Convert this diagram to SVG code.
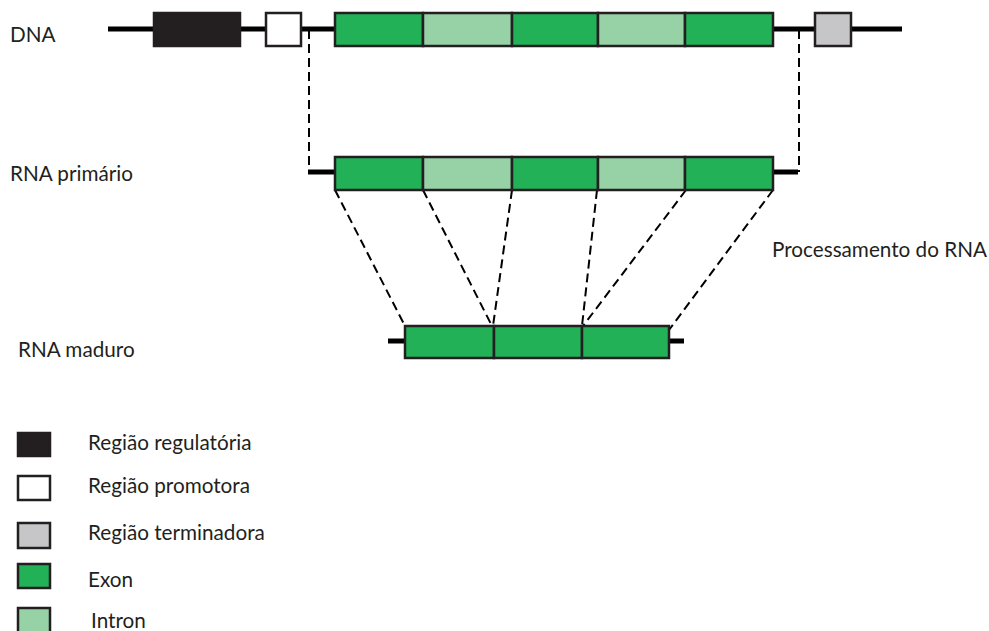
<svg xmlns="http://www.w3.org/2000/svg" width="989" height="631" viewBox="0 0 989 631">
<style>
  text { font-family: Lato, "Open Sans", sans-serif; font-size: 20.7px; fill: #231f20; }
  .box { stroke: #231f20; stroke-width: 2.5; }
  .reg { fill: #231f20; }
  .pro { fill: #ffffff; }
  .ter { fill: #c6c6c8; }
  .exon { fill: #22b157; }
  .intron { fill: #97d1a6; }
  .line { stroke: #000; stroke-width: 5; fill: none; }
  .dash { stroke: #000; stroke-width: 2; stroke-dasharray: 9 5; fill: none; }
</style>
<g id="labels">
  <text x="10" y="42">DNA</text>
  <text x="10" y="181">RNA primário</text>
  <text x="18" y="357">RNA maduro</text>
  <text x="772" y="257">Processamento do RNA</text>
</g>
<g id="connectors">
  <line class="line" x1="108" y1="29" x2="902" y2="29"/>
  <polyline class="line" points="308,172 335,172"/>
  <polyline class="line" points="773,172 798,172"/>
  <line class="line" x1="388" y1="341" x2="684" y2="341"/>
  <polyline class="dash" points="309,30 309,172"/>
  <polyline class="dash" points="799,30 799,172"/>
  <line class="dash" x1="335" y1="190" x2="405" y2="326"/>
  <line class="dash" x1="423" y1="190" x2="492" y2="326"/>
  <line class="dash" x1="512" y1="190" x2="493" y2="326"/>
  <line class="dash" x1="597" y1="190" x2="582" y2="326"/>
  <line class="dash" x1="686" y1="190" x2="583" y2="326"/>
  <line class="dash" x1="773" y1="190" x2="669" y2="330"/>
</g>
<g id="dna">
  <rect class="box reg" x="154" y="13" width="86" height="33"/>
  <rect class="box pro" x="266" y="13" width="35" height="33"/>
  <rect class="box exon" x="335" y="13" width="88" height="33"/>
  <rect class="box intron" x="423" y="13" width="89" height="33"/>
  <rect class="box exon" x="512" y="13" width="86" height="33"/>
  <rect class="box intron" x="598" y="13" width="87" height="33"/>
  <rect class="box exon" x="685" y="13" width="88" height="33"/>
  <rect class="box ter" x="815" y="13" width="36" height="33"/>
</g>
<g id="rna-primario">
  <rect class="box exon" x="335" y="157" width="88" height="33"/>
  <rect class="box intron" x="423" y="157" width="89" height="33"/>
  <rect class="box exon" x="512" y="157" width="86" height="33"/>
  <rect class="box intron" x="598" y="157" width="87" height="33"/>
  <rect class="box exon" x="685" y="157" width="88" height="33"/>
</g>
<g id="rna-maduro">
  <rect class="box exon" x="405" y="326" width="89" height="32"/>
  <rect class="box exon" x="494" y="326" width="88" height="32"/>
  <rect class="box exon" x="582" y="326" width="87" height="32"/>
</g>
<g id="legend">
  <rect class="box reg" x="18" y="433" width="32" height="23"/>
  <text x="88" y="450">Região regulatória</text>
  <rect class="box pro" x="18" y="476" width="32" height="24"/>
  <text x="88" y="493">Região promotora</text>
  <rect class="box ter" x="18" y="523" width="32" height="25"/>
  <text x="88" y="540">Região terminadora</text>
  <rect class="box exon" x="18" y="564" width="32" height="24"/>
  <text x="88" y="587">Exon</text>
  <rect class="box intron" x="18" y="608" width="32" height="26"/>
  <text x="91" y="628">Intron</text>
</g>
</svg>
